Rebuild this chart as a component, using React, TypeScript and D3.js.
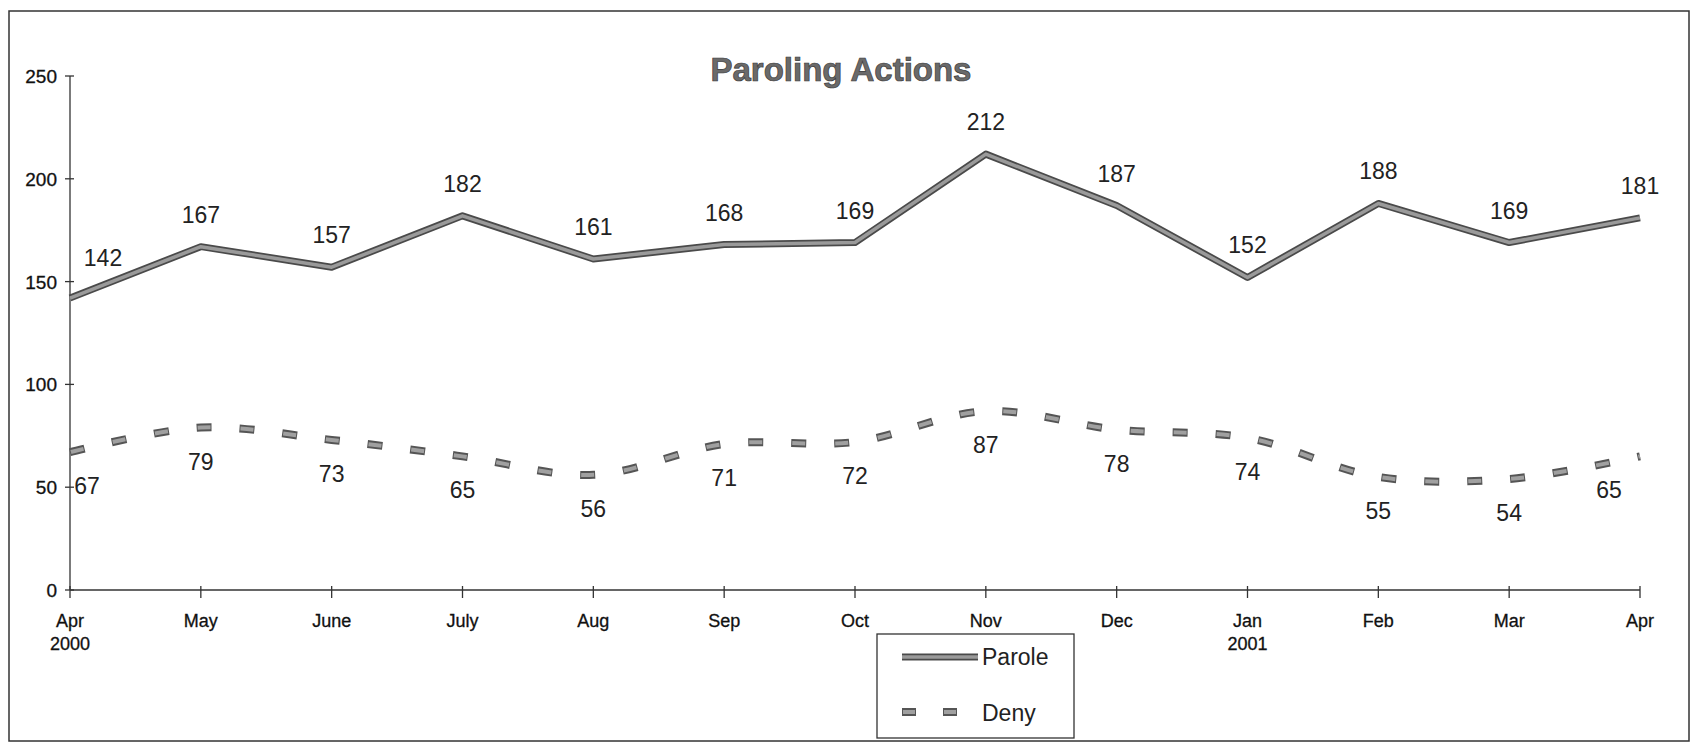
import React from "react";
import * as d3 from "d3";

const months = ["Apr", "May", "June", "July", "Aug", "Sep", "Oct", "Nov", "Dec", "Jan", "Feb", "Mar", "Apr"];
const years = ["2000", "", "", "", "", "", "", "", "", "2001", "", "", ""];
const parole = [142, 167, 157, 182, 161, 168, 169, 212, 187, 152, 188, 169, 181];
const deny = [67, 79, 73, 65, 56, 71, 72, 87, 78, 74, 55, 54, 65];
const yTicks = [0, 50, 100, 150, 200, 250];
const title = "Paroling Actions";
const seriesNames = ["Parole", "Deny"];

const W = 1697;
const H = 745;
const FONT = "'Liberation Sans', Arial, sans-serif";

export default function App() {
  const x = d3.scaleLinear().domain([0, months.length - 1]).range([70, 1640]);
  const y = d3.scaleLinear().domain([0, 250]).range([590, 76]);

  const straight = d3
    .line<number>()
    .x((_, i) => x(i))
    .y((d) => y(d));
  const smooth = d3
    .line<number>()
    .x((_, i) => x(i))
    .y((d) => y(d))
    .curve(d3.curveCatmullRom.alpha(0.5));

  const paroleD = straight(parole) || "";
  const denyD = smooth(deny) || "";
  const last = months.length - 1;

  return (
    <svg
      width={W}
      height={H}
      style={{ position: "absolute", left: 0, top: 0, background: "#fff" }}
      fontFamily={FONT}
    >
      <rect x={0} y={0} width={W} height={H} fill="#fff" />
      {/* outer frame */}
      <rect x={9} y={11} width={1680} height={730} fill="none" stroke="#333" strokeWidth={1.5} />

      {/* title */}
      <text
        x={841}
        y={81}
        textAnchor="middle"
        fontSize={33}
        fontWeight="bold"
        fill="#6a6a6a"
        stroke="#3a3a3a"
        strokeWidth={0.7}
      >
        {title}
      </text>

      {/* y axis */}
      <line x1={x(0)} x2={x(0)} y1={y(250)} y2={y(0)} stroke="#333" strokeWidth={1.3} />
      {yTicks.map((t) => (
        <g key={"y" + t}>
          <line x1={x(0) - 5} x2={x(0) + 4} y1={y(t)} y2={y(t)} stroke="#333" strokeWidth={1.3} />
          <text x={x(0) - 13} y={y(t) + 7} textAnchor="end" fontSize={19} fill="#111" stroke="#111" strokeWidth={0.3}>
            {t}
          </text>
        </g>
      ))}

      {/* x axis */}
      <line x1={x(0)} x2={x(last)} y1={y(0)} y2={y(0)} stroke="#333" strokeWidth={1.3} />
      {months.map((m, i) => (
        <g key={"x" + i}>
          <line x1={x(i)} x2={x(i)} y1={y(0) - 4} y2={y(0) + 8} stroke="#333" strokeWidth={1.3} />
          <text x={x(i)} y={627} textAnchor="middle" fontSize={18} fill="#111" stroke="#111" strokeWidth={0.3}>
            {m}
          </text>
          {years[i] && (
            <text x={x(i)} y={650} textAnchor="middle" fontSize={18} fill="#111" stroke="#111" strokeWidth={0.3}>
              {years[i]}
            </text>
          )}
        </g>
      ))}

      {/* Parole line */}
      <path d={paroleD} fill="none" stroke="#4a4a4a" strokeWidth={7} strokeLinejoin="round" />
      <path d={paroleD} fill="none" stroke="#9a9a9a" strokeWidth={3.5} strokeLinejoin="round" />

      {/* Deny line */}
      <path d={denyD} fill="none" stroke="#555" strokeWidth={8} strokeDasharray="15 28" />
      <path
        d={denyD}
        fill="none"
        stroke="#a0a0a0"
        strokeWidth={4}
        strokeDasharray="13 30"
        strokeDashoffset={-1}
      />

      {/* data labels */}
      {parole.map((v, i) => (
        <text
          key={"pl" + i}
          x={x(i) + (i === 0 ? 33 : 0)}
          y={y(v) - (i === 0 ? 32 : 24)}
          textAnchor="middle"
          fontSize={23}
          fill="#222"
        >
          {v}
        </text>
      ))}
      {deny.map((v, i) => (
        <text
          key={"dl" + i}
          x={x(i) + (i === 0 ? 17 : i === last ? -31 : 0)}
          y={y(v) + 42}
          textAnchor="middle"
          fontSize={23}
          fill="#222"
        >
          {v}
        </text>
      ))}

      {/* legend */}
      <rect x={877} y={634} width={197} height={104} fill="#fff" stroke="#333" strokeWidth={1.3} />
      <line x1={902} x2={978} y1={657} y2={657} stroke="#4a4a4a" strokeWidth={7} />
      <line x1={902} x2={978} y1={657} y2={657} stroke="#9a9a9a" strokeWidth={3.5} />
      <text x={982} y={665} fontSize={23} fill="#222">
        {seriesNames[0]}
      </text>
      <line x1={902} x2={958} y1={712} y2={712} stroke="#555" strokeWidth={8} strokeDasharray="14 27" />
      <line x1={903} x2={958} y1={712} y2={712} stroke="#a0a0a0" strokeWidth={4} strokeDasharray="12 29" />
      <text x={982} y={721} fontSize={23} fill="#222">
        {seriesNames[1]}
      </text>
    </svg>
  );
}
